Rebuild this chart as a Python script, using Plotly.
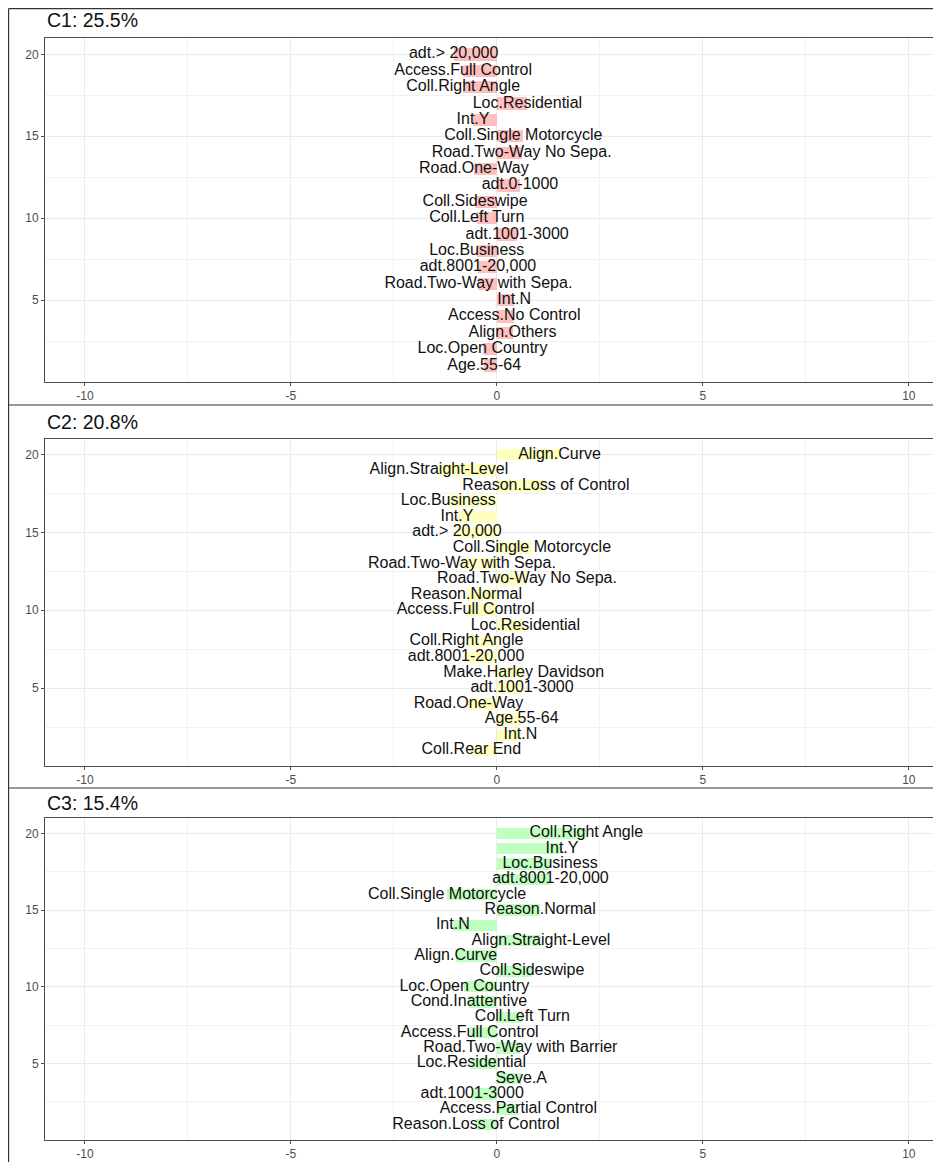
import plotly.graph_objects as go

# ---- data (top row first) ----
c1_labels = ["adt.> 20,000", "Access.Full Control", "Coll.Right Angle", "Loc.Residential", "Int.Y",
             "Coll.Single Motorcycle", "Road.Two-Way No Sepa.", "Road.One-Way", "adt.0-1000",
             "Coll.Sideswipe", "Coll.Left Turn", "adt.1001-3000", "Loc.Business", "adt.8001-20,000",
             "Road.Two-Way with Sepa.", "Int.N", "Access.No Control", "Align.Others",
             "Loc.Open Country", "Age.55-64"]
c1_values = [-1.05, -0.82, -0.82, 0.74, -0.58, 0.64, 0.60, -0.56, 0.56, -0.53,
             -0.49, 0.49, -0.49, -0.46, -0.45, 0.42, 0.42, 0.38, -0.35, -0.31]

c2_labels = ["Align.Curve", "Align.Straight-Level", "Reason.Loss of Control", "Loc.Business", "Int.Y",
             "adt.> 20,000", "Coll.Single Motorcycle", "Road.Two-Way with Sepa.", "Road.Two-Way No Sepa.",
             "Reason.Normal", "Access.Full Control", "Loc.Residential", "Coll.Right Angle",
             "adt.8001-20,000", "Make.Harley Davidson", "adt.1001-3000", "Road.One-Way", "Age.55-64",
             "Int.N", "Coll.Rear End"]
c2_values = [1.52, -1.41, 1.19, -1.18, -0.97, -0.97, 0.85, -0.85, 0.73, -0.74,
             -0.76, 0.69, -0.74, -0.75, 0.65, 0.61, -0.69, 0.60, 0.57, -0.62]

c3_labels = ["Coll.Right Angle", "Int.Y", "Loc.Business", "adt.8001-20,000", "Coll.Single Motorcycle",
             "Reason.Normal", "Int.N", "Align.Straight-Level", "Align.Curve", "Coll.Sideswipe",
             "Loc.Open Country", "Cond.Inattentive", "Coll.Left Turn", "Access.Full Control",
             "Road.Two-Way with Barrier", "Loc.Residential", "Seve.A", "adt.1001-3000",
             "Access.Partial Control", "Reason.Loss of Control"]
c3_values = [2.17, 1.58, 1.29, 1.30, -1.21, 1.05, -1.07, 1.07, -1.00, 0.85,
             -0.79, -0.68, 0.62, -0.66, 0.57, -0.62, 0.59, -0.60, 0.52, -0.51]

titles = ["C1: 25.5%", "C2: 20.8%", "C3: 15.4%"]
bar_colors = ["#FFBFBF", "#FFFFBF", "#BFFFBF"]
x_ticks = [-10, -5, 0, 5, 10]
y_ticks = [5, 10, 15, 20]

panels = [(c1_labels, c1_values), (c2_labels, c2_values), (c3_labels, c3_values)]

# page has an 8px body margin -> figure is 8px smaller and shifted
OFF = 8
W = 941.0 - OFF
H = 1162.0 - OFF
# plot area (top, bottom) pixel positions in page coordinates
plot_px = [(38, 382), (439, 766), (818, 1140)]
title_px = [20, 422, 803]
sep_px = [405, 788]


def py(p):
    return 1 - (p - OFF) / H


def px(p):
    return (p - OFF) / W


FONT = "Liberation Sans, Arial"
fig = go.Figure()
for k, (labs, vals) in enumerate(panels):
    n = len(labs)
    pos = [n - i for i in range(n)]
    xa = "x" if k == 0 else f"x{k+1}"
    ya = "y" if k == 0 else f"y{k+1}"
    fig.add_trace(go.Bar(x=vals, y=pos, orientation="h", width=0.75,
                         marker=dict(color=bar_colors[k], line=dict(width=0)),
                         xaxis=xa, yaxis=ya, showlegend=False, hoverinfo="skip"))
    fig.add_trace(go.Scatter(x=vals, y=pos, mode="text", text=labs,
                             textposition="middle center",
                             textfont=dict(family=FONT, size=16, color="#111111"),
                             xaxis=xa, yaxis=ya, showlegend=False, hoverinfo="skip",
                             cliponaxis=False))

    top, bot = plot_px[k]
    xkey = "xaxis" if k == 0 else f"xaxis{k+1}"
    ykey = "yaxis" if k == 0 else f"yaxis{k+1}"
    fig.update_layout(**{
        xkey: dict(domain=[px(45), 1.0], range=[-10.97, 10.78], anchor=ya,
                   tickvals=x_ticks, ticktext=[str(v) for v in x_ticks],
                   showgrid=True, gridcolor="#EBEBEB", gridwidth=1,
                   minor=dict(tickvals=[-7.5, -2.5, 2.5, 7.5], showgrid=True,
                              gridcolor="#F2F2F2", gridwidth=0.6, ticks=""),
                   zeroline=False, showline=True, mirror=True, linecolor="#4D4D4D", linewidth=1,
                   ticks="outside", ticklen=3, tickcolor="#4D4D4D",
                   tickfont=dict(family=FONT, size=12, color="#4D4D4D")),
        ykey: dict(domain=[py(bot), py(top)], range=[0.0, 21.0], anchor=xa,
                   tickvals=y_ticks, ticktext=[str(v) for v in y_ticks],
                   showgrid=True, gridcolor="#EBEBEB", gridwidth=1,
                   minor=dict(tickvals=[2.5, 7.5, 12.5, 17.5], showgrid=True,
                              gridcolor="#F2F2F2", gridwidth=0.6, ticks=""),
                   zeroline=False, showline=True, mirror=False, linecolor="#4D4D4D", linewidth=1,
                   ticks="outside", ticklen=3, tickcolor="#4D4D4D",
                   tickfont=dict(family=FONT, size=12, color="#4D4D4D")),
    })
    fig.add_annotation(x=px(45), y=py(title_px[k]), xref="paper", yref="paper",
                       text=titles[k], showarrow=False, xanchor="left", yanchor="middle",
                       font=dict(family=FONT, size=19.5, color="#111111"))

# outer frame lines
shapes = [
    dict(type="line", xref="paper", yref="paper", x0=0.0006, x1=1.0, y0=0.9995, y1=0.9995,
         line=dict(color="#333333", width=1.2)),
    dict(type="line", xref="paper", yref="paper", x0=0.0006, x1=0.0006, y0=0, y1=0.9995,
         line=dict(color="#333333", width=1.2)),
]
for s in sep_px:
    shapes.append(dict(type="line", xref="paper", yref="paper", x0=0.0006, x1=1.0,
                       y0=py(s), y1=py(s), line=dict(color="#333333", width=1.2)))

fig.update_layout(width=int(W), height=int(H), margin=dict(l=0, r=0, t=0, b=0),
                  paper_bgcolor="white", plot_bgcolor="white", shapes=shapes,
                  bargap=0, barmode="overlay")

fig.write_html("out.html")
